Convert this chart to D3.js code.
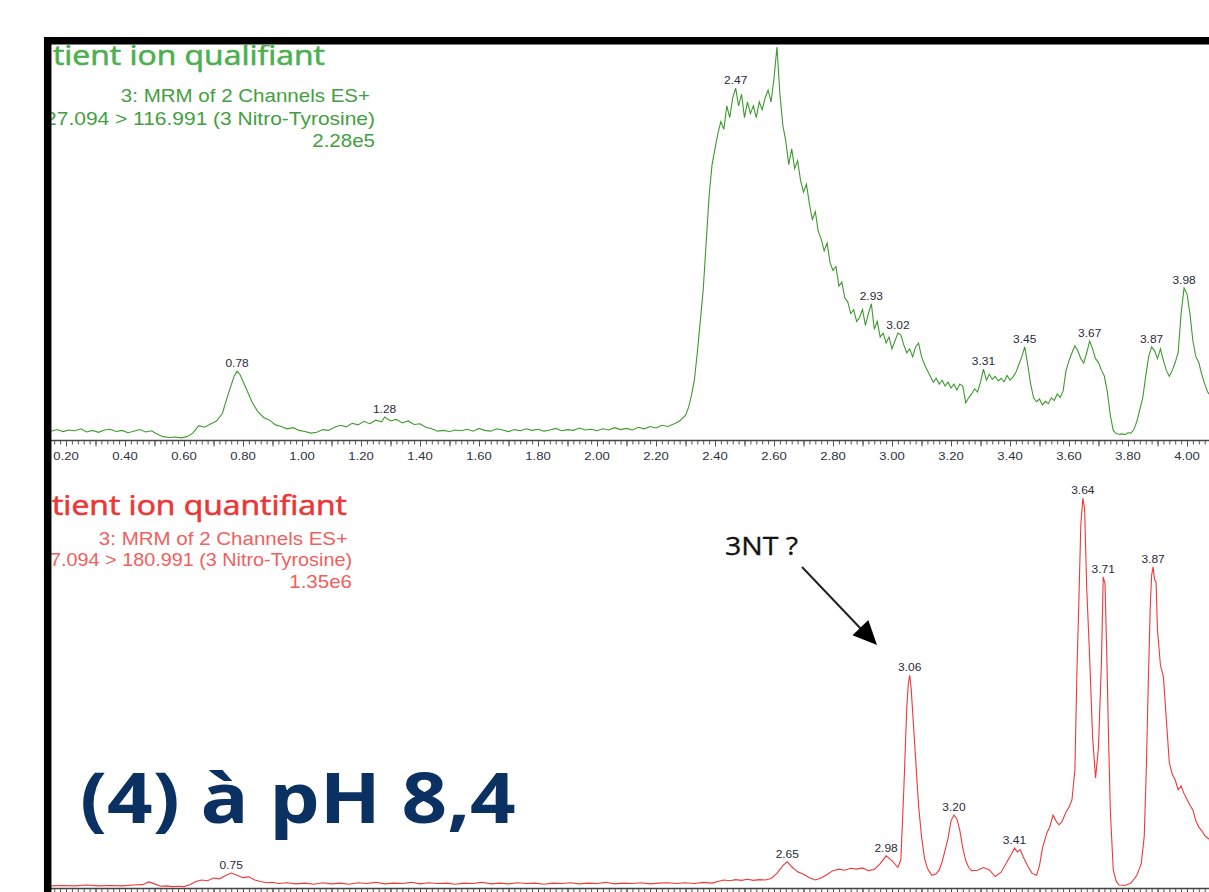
<!DOCTYPE html>
<html lang="fr">
<head>
<meta charset="UTF-8">
<title>3-Nitro-Tyrosine MRM</title>
<script src="https://cdnjs.cloudflare.com/ajax/libs/d3/7.8.5/d3.min.js"></script>
<style>
  html, body { margin: 0; padding: 0; background: #fff; }
  svg { display: block; }
</style>
</head>
<body>
<div id="chart"></div>
<script>
// retention time (min), relative intensity (%)
const topTrace = [
  [0.15,2.0],[0.17,2.4],[0.19,1.9],[0.21,2.3],[0.23,2.1],[0.25,2.6],[0.27,1.8],[0.29,2.2],[0.31,1.7],[0.33,2.3],
  [0.35,2.5],[0.37,1.9],[0.39,2.2],[0.41,1.6],[0.43,2.0],[0.45,2.4],[0.47,1.8],[0.49,2.1],[0.51,1.2],[0.53,0.6],
  [0.55,0.4],[0.57,0.5],[0.59,0.3],[0.61,0.6],[0.63,1.5],[0.65,3.4],[0.67,3.0],[0.69,3.8],[0.71,4.6],[0.73,6.5],
  [0.75,11.5],[0.77,16.0],[0.78,17.3],[0.79,16.4],[0.81,13.0],[0.83,9.5],[0.85,7.0],[0.87,5.5],[0.89,4.8],[0.91,3.6],
  [0.93,3.2],[0.95,2.6],[0.97,2.9],[0.99,2.2],[1.01,1.9],[1.03,1.5],[1.05,1.7],[1.07,2.4],[1.09,2.2],[1.11,3.0],
  [1.13,3.5],[1.15,3.1],[1.17,4.0],[1.19,3.6],[1.21,4.5],[1.23,3.9],[1.25,4.8],[1.27,4.4],[1.28,5.6],[1.30,4.6],
  [1.32,5.0],[1.34,4.1],[1.36,4.6],[1.38,3.7],[1.40,3.9],[1.42,3.0],[1.44,2.6],[1.46,2.0],[1.48,2.2],[1.50,1.9],
  [1.52,2.3],[1.54,2.1],[1.56,2.5],[1.58,2.0],[1.60,2.7],[1.62,2.2],[1.64,2.0],[1.66,2.6],[1.68,2.3],[1.70,1.9],
  [1.72,2.4],[1.74,2.1],[1.76,2.6],[1.78,2.2],[1.80,2.5],[1.82,2.0],[1.84,2.3],[1.86,2.7],[1.88,2.1],[1.90,2.4],
  [1.92,2.2],[1.94,2.8],[1.96,2.3],[1.98,2.5],[2.00,2.1],[2.02,2.6],[2.04,2.3],[2.06,2.9],[2.08,2.4],[2.10,2.7],
  [2.12,2.3],[2.14,3.0],[2.16,2.6],[2.18,3.2],[2.20,2.8],[2.22,3.5],[2.24,3.2],[2.26,3.8],[2.28,4.6],[2.30,6.0],
  [2.31,8.0],[2.32,11],[2.33,15],[2.34,22],[2.35,30],[2.36,38],[2.37,50],[2.38,62],[2.39,70],[2.40,74],[2.41,78],
  [2.42,81],[2.43,79],[2.44,85],[2.45,82],[2.46,87],[2.47,89.5],[2.48,85],[2.49,88],[2.50,82],[2.51,86],
  [2.52,83],[2.53,85],[2.54,82],[2.55,86],[2.56,84],[2.57,87],[2.58,89],[2.59,86],[2.60,92],[2.61,100],
  [2.62,88],[2.63,80],[2.64,76],[2.65,70],[2.66,74],[2.67,69],[2.68,71],[2.69,66],[2.70,63],[2.71,65],
  [2.72,60],[2.73,56],[2.74,58],[2.75,53],[2.76,51],[2.77,48],[2.78,50],[2.79,45],[2.80,43],[2.81,44],
  [2.82,39],[2.83,40],[2.84,36],[2.85,35],[2.86,32],[2.87,33],[2.88,30],[2.89,31],[2.90,33],[2.91,29],
  [2.92,32],[2.93,34.5],[2.94,28],[2.95,30],[2.96,26],[2.97,27],[2.98,24.5],[2.99,26],[3.00,23],[3.01,25],
  [3.02,27],[3.03,26.5],[3.04,24],[3.05,22],[3.06,23],[3.07,21],[3.08,23.5],[3.09,24.5],[3.10,21],[3.11,19],
  [3.12,17.5],[3.13,16],[3.14,14.5],[3.15,15.5],[3.16,14],[3.17,15],[3.18,13.5],[3.19,14.5],[3.20,13],[3.21,14],
  [3.22,12.5],[3.23,14],[3.24,13.5],[3.25,9.2],[3.26,10.5],[3.27,11.5],[3.28,12.8],[3.29,12],[3.30,14.5],[3.31,17.8],
  [3.32,15],[3.33,16.5],[3.34,15.2],[3.35,16],[3.36,14.8],[3.37,15.5],[3.38,14.6],[3.39,16.2],[3.40,15],[3.41,15.8],
  [3.42,17],[3.43,19],[3.44,21],[3.45,23.5],[3.46,19],[3.47,14],[3.48,10.5],[3.49,9.5],[3.50,10.2],[3.51,8.7],
  [3.52,9.6],[3.53,9],[3.54,10.5],[3.55,9.8],[3.56,11.5],[3.57,10.6],[3.58,12.2],[3.59,17.5],[3.60,20],[3.61,22],
  [3.62,23.8],[3.63,22.5],[3.64,20.5],[3.65,19.4],[3.66,22],[3.67,25],[3.68,23],[3.69,20.5],[3.70,19.5],[3.71,17.5],
  [3.72,16],[3.73,12],[3.74,6],[3.75,2.2],[3.76,1.4],[3.77,1.2],[3.78,1.3],[3.79,1.1],[3.80,1.6],[3.81,1.5],
  [3.82,2.4],[3.83,4.5],[3.84,7.5],[3.85,10.5],[3.86,16],[3.87,21],[3.88,23.5],[3.89,22.5],[3.90,20.5],[3.91,23],
  [3.92,20],[3.93,17.5],[3.94,16],[3.95,17.5],[3.96,19.5],[3.97,22],[3.98,32],[3.99,38.5],[4.00,37],[4.01,32],
  [4.02,25],[4.03,21],[4.04,19.5],[4.05,16.5],[4.06,14],[4.07,12],[4.08,11]
];

const bottomTrace = [
  [0.15,0.3],[0.19,0.4],[0.23,0.3],[0.27,0.5],[0.31,0.3],[0.35,0.4],[0.39,0.3],[0.43,0.5],[0.46,0.6],[0.48,1.3],
  [0.50,0.8],[0.52,0.2],[0.54,0.3],[0.56,0.1],[0.58,0.2],[0.60,0.1],[0.62,0.6],[0.64,1.4],[0.66,1.8],[0.68,1.6],
  [0.70,2.3],[0.72,2.1],[0.74,2.9],[0.76,3.6],[0.78,3.0],[0.80,2.4],[0.82,2.6],[0.84,1.8],[0.86,1.4],[0.88,1.1],
  [0.90,1.2],[0.92,0.9],[0.95,1.1],[0.98,0.8],[1.01,1.0],[1.04,0.7],[1.07,1.1],[1.10,0.8],[1.13,1.0],[1.16,0.7],
  [1.19,1.1],[1.22,0.9],[1.25,1.2],[1.28,0.8],[1.31,1.0],[1.34,0.9],[1.37,1.2],[1.40,0.8],[1.43,1.1],[1.46,0.9],
  [1.49,1.0],[1.52,0.7],[1.55,1.0],[1.58,0.9],[1.61,1.2],[1.64,0.8],[1.67,1.0],[1.70,0.8],[1.73,1.1],[1.76,0.9],
  [1.79,1.0],[1.82,0.7],[1.85,1.0],[1.88,0.9],[1.91,1.1],[1.94,0.8],[1.97,1.0],[2.00,0.9],[2.03,1.2],[2.06,0.8],
  [2.09,1.0],[2.12,0.9],[2.15,1.1],[2.18,0.8],[2.21,1.0],[2.24,1.1],[2.27,0.9],[2.30,1.1],[2.33,0.9],[2.36,1.2],
  [2.39,1.0],[2.41,1.4],[2.43,1.8],[2.45,1.6],[2.47,1.9],[2.49,1.7],[2.51,2.0],[2.53,1.7],[2.55,1.9],[2.57,1.8],
  [2.59,2.2],[2.61,3.5],[2.63,5.5],[2.645,6.5],[2.66,5.2],[2.68,3.9],[2.70,3.3],[2.72,2.4],[2.74,1.8],[2.76,2.3],
  [2.78,3.2],[2.80,4.2],[2.82,4.6],[2.84,4.3],[2.86,4.8],[2.88,4.6],[2.90,4.9],[2.92,4.2],[2.94,4.5],[2.96,6.0],
  [2.98,8.0],[3.00,6.8],[3.02,5.0],[3.03,7.0],[3.04,25],[3.05,46],[3.055,52],[3.06,54.5],[3.065,51],[3.07,45],
  [3.08,33],[3.09,21],[3.10,13],[3.11,7.5],[3.12,4.8],[3.135,3.0],[3.15,3.4],[3.16,4.4],[3.17,6.5],[3.18,9.5],
  [3.19,12.5],[3.20,17],[3.21,18.5],[3.22,17.5],[3.23,14.5],[3.24,10],[3.25,6.8],[3.26,5.0],[3.27,4.2],[3.29,4.3],
  [3.31,5.0],[3.33,4.4],[3.35,2.7],[3.37,3.8],[3.39,6.5],[3.405,8.5],[3.415,10],[3.425,9],[3.435,9.6],[3.445,7.7],
  [3.46,5.4],[3.475,3.5],[3.49,3.0],[3.50,5.5],[3.51,10],[3.525,13.9],[3.535,15.5],[3.546,18.5],[3.556,17],[3.566,16],
  [3.576,16.8],[3.59,19.3],[3.60,20.5],[3.61,22.4],[3.62,30],[3.627,55.8],[3.634,75],[3.64,93],[3.647,100],[3.653,97],
  [3.66,77],[3.67,59],[3.68,38.6],[3.69,28],[3.70,36],[3.71,58],[3.716,79.7],[3.722,78],[3.728,60],[3.734,38.6],
  [3.74,19.8],[3.75,4.4],[3.76,1.5],[3.77,0.5],[3.79,0.4],[3.81,1.0],[3.83,3.0],[3.845,6.0],[3.855,13],[3.862,30],
  [3.868,50],[3.875,71],[3.88,80],[3.885,82.3],[3.89,79],[3.895,78.5],[3.90,66],[3.91,57],[3.92,54],[3.93,43],
  [3.94,32],[3.95,29],[3.96,27.5],[3.97,25],[3.98,26],[3.99,24],[4.00,22.5],[4.01,21],[4.02,19.8],[4.03,17],
  [4.04,15.4],[4.05,14.5],[4.06,13.2],[4.07,12.6],[4.08,12]
];

// peak apex: time, intensity, printed retention time
const topPeakTimes  = [0.78, 1.28, 2.47, 2.61, 2.93, 3.02, 3.31, 3.45, 3.67, 3.88, 3.99];
const topPeakValues = [17.3, 5.6, 89.5, 100, 34.5, 27, 17.8, 23.5, 25, 23.5, 38.5];
const topPeakLabels = ["0.78", "1.28", "2.47", "2.60", "2.93", "3.02", "3.31", "3.45", "3.67", "3.87", "3.98"];

const bottomPeakTimes  = [0.76, 2.645, 2.98, 3.06, 3.21, 3.415, 3.647, 3.716, 3.885];
const bottomPeakValues = [3.6, 6.5, 8.0, 54.5, 18.5, 10, 100, 79.7, 82.3];
const bottomPeakLabels = ["0.75", "2.65", "2.98", "3.06", "3.20", "3.41", "3.64", "3.71", "3.87"];

const majorTicks = [0.2, 0.4, 0.6, 0.8, 1.0, 1.2, 1.4, 1.6, 1.8, 2.0, 2.2, 2.4, 2.6, 2.8, 3.0, 3.2, 3.4, 3.6, 3.8, 4.0];

const topHeader    = ["3: MRM of 2 Channels ES+", "227.094 > 116.991 (3 Nitro-Tyrosine)", "2.28e5"];
const bottomHeader = ["3: MRM of 2 Channels ES+", "227.094 > 180.991 (3 Nitro-Tyrosine)", "1.35e6"];

const W = 1209, H = 892;
const K = 1.14; // horizontal stretch of the screenshot

const svg = d3.select("#chart").append("svg")
    .attr("width", W)
    .attr("height", H);

svg.append("defs").append("clipPath").attr("id", "plotClip")
  .append("rect").attr("x", 51).attr("y", 45).attr("width", W - 51).attr("height", H - 45);

const plot = svg.append("g").attr("clip-path", "url(#plotClip)");

const x = d3.scaleLinear().domain([0, 4]).range([7, 1187]);
const yTop = d3.scaleLinear().domain([0, 100]).range([439, 47]);
const yBot = d3.scaleLinear().domain([0, 100]).range([887, 498]);

// stretched text helper
function label(parent, px, py, str, opts) {
    const g = parent.append("g")
        .attr("transform", `translate(${px},${py}) scale(${opts.k || K},1)`);
    const t = g.append("text")
        .attr("text-anchor", opts.anchor || "start")
        .attr("font-family", opts.family || "'Liberation Sans', Arial, sans-serif")
        .attr("font-size", opts.size)
        .attr("font-weight", opts.weight || "normal")
        .attr("fill", opts.color)
        .text(str);
    if (opts.bolden) {
        t.attr("stroke", opts.color).attr("stroke-width", opts.bolden);
    }
    return t;
}

// axes
const minorTicks = d3.range(8, 205).map(i => i / 50);
const midTicks = d3.range(2, 41).map(i => i / 10);

function drawAxis(yPos, withLabels) {
    const g = plot.append("g").attr("transform", `translate(0,${yPos})`);
    g.append("g")
        .call(d3.axisBottom(x).tickValues(minorTicks).tickSize(4).tickFormat(""))
        .call(a => a.select(".domain").remove());
    g.append("g")
        .call(d3.axisBottom(x).tickValues(midTicks).tickSize(6).tickFormat(""))
        .call(a => a.select(".domain").remove());
    g.append("line")
        .attr("x1", 51).attr("x2", W)
        .attr("stroke", "#444").attr("stroke-width", 1.5);
    g.selectAll(".tick line").attr("stroke", "#555");
    if (withLabels) {
        majorTicks.forEach(t => {
            label(g, x(t), 19, d3.format(".2f")(t), {size: 11.5, color: "#2e3340", anchor: "middle"});
        });
    }
}
drawAxis(440.5, true);
drawAxis(888.5, false); // labels fall below the cropped picture

// traces
const lineTop = d3.line().x(d => x(d[0])).y(d => yTop(d[1]));
const lineBot = d3.line().x(d => x(d[0])).y(d => yBot(d[1]));

plot.append("path").datum(topTrace)
    .attr("d", lineTop).attr("fill", "none")
    .attr("stroke", "#3d9a2f").attr("stroke-width", 1.1);

plot.append("path").datum(bottomTrace)
    .attr("d", lineBot).attr("fill", "none")
    .attr("stroke", "#f03838").attr("stroke-width", 1.1);

// peak labels
topPeakTimes.forEach((t, i) => {
    label(plot, x(t), yTop(topPeakValues[i]) - 4, topPeakLabels[i],
        {size: 10.5, color: "#2a2a38", anchor: "middle"});
});
bottomPeakTimes.forEach((t, i) => {
    label(plot, x(t), yBot(bottomPeakValues[i]) - 4, bottomPeakLabels[i],
        {size: 10.5, color: "#2a2a38", anchor: "middle"});
});

// panel headers
label(plot, 325, 65, "Patient ion qualifiant",
    {size: 28, color: "#4caf50", anchor: "end", family: "'Open Sans', sans-serif", bolden: 0.6});
label(plot, 370, 102, topHeader[0], {size: 18, color: "#42a040", anchor: "end"});
label(plot, 375, 125, topHeader[1], {size: 18, color: "#42a040", anchor: "end", k: 1.165});
label(plot, 375, 147, topHeader[2], {size: 18, color: "#42a040", anchor: "end"});

label(plot, 347, 515, "Patient ion quantifiant",
    {size: 28, color: "#ee3535", anchor: "end", family: "'Open Sans', sans-serif", bolden: 0.6});
label(plot, 348, 545, bottomHeader[0], {size: 18, color: "#f06060", anchor: "end"});
label(plot, 352, 566, bottomHeader[1], {size: 18, color: "#f06060", anchor: "end", k: 1.1});
label(plot, 352, 588, bottomHeader[2], {size: 18, color: "#f06060", anchor: "end"});

// annotation
label(plot, 725, 555, "3NT ?", {size: 25, color: "#111", family: "'Open Sans', sans-serif", bolden: 0.3});
plot.append("line")
    .attr("x1", 802).attr("y1", 567).attr("x2", 862).attr("y2", 630)
    .attr("stroke", "#222").attr("stroke-width", 2);
plot.append("path")
    .attr("d", "M877,645 L852.5,635.3 L868.3,620.1 Z")
    .attr("fill", "#000");

label(plot, 80, 823, "(4) à pH 8,4",
    {size: 70, weight: "bold", color: "#0b3163", family: "'Open Sans', sans-serif"});

// frame
svg.append("path")
    .attr("d", `M47.7,${H + 10} L47.7,40.7 L${W + 10},40.7`)
    .attr("fill", "none")
    .attr("stroke", "#000")
    .attr("stroke-width", 7.5);
</script>
</body>
</html>
